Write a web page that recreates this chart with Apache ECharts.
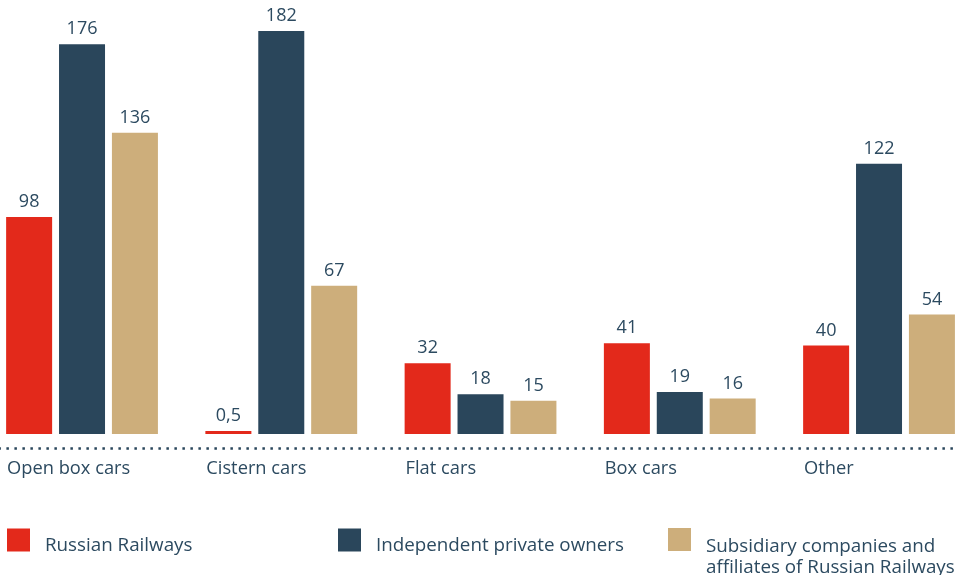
<!DOCTYPE html>
<html>
<head>
<meta charset="utf-8">
<script src="https://cdn.jsdelivr.net/npm/echarts@6/dist/echarts.min.js"></script>
<style>
  html, body { margin: 0; padding: 0; background: #ffffff; }
  #chart { width: 956px; height: 575px; }
</style>
</head>
<body>
<div id="chart"></div>
<script>
// Wagon fleet by type and owner
const categories = ['Open box cars', 'Cistern cars', 'Flat cars', 'Box cars', 'Other'];
const russianRailways = [98, 0.5, 32, 41, 40];
const privateOwners = [176, 182, 18, 19, 122];
const subsidiaries = [136, 67, 15, 16, 54];
const seriesNames = ['Russian Railways', 'Independent private owners', 'Subsidiary companies and affiliates of Russian Railways'];
const subsidiaryLines = ['Subsidiary companies and', 'affiliates of Russian Railways'];

const TEXT = '#2c4a60';
const FONT = '"Open Sans", "Noto Sans", sans-serif';
const COLORS = ['#e3291b', '#2a465b', '#cdae7b'];

const chart = echarts.init(document.getElementById('chart'), null, { renderer: 'canvas' });

const valueLabel = {
  show: true,
  position: 'top',
  distance: 6,
  color: TEXT,
  fontFamily: FONT,
  fontSize: 18,
  formatter: p => String(p.value).replace('.', ',')
};

// Legend entries: an empty spacer line above the text drops it a little below the swatch's centre
function legendAt(left, top, name, spacer, lines) {
  return {
    data: [name],
    left: left,
    top: top,
    padding: 0,
    orient: 'horizontal',
    icon: 'rect',
    itemWidth: 23,
    itemHeight: 23,
    selectedMode: false,
    formatter: n => '{s| }\n' + (lines || [n]).map(l => '{t|' + l + '}').join('\n'),
    textStyle: {
      color: TEXT,
      fontFamily: FONT,
      fontSize: 18.8,
      rich: {
        s: { lineHeight: spacer, fontSize: 4, padding: [0, 0, 0, 10] },
        t: { lineHeight: 21, fontSize: 18.8, color: TEXT, fontFamily: FONT, padding: [0, 0, 0, 10] }
      }
    }
  };
}

chart.setOption({
  animation: false,
  backgroundColor: '#ffffff',
  grid: { left: -17.6, top: 0, width: 996.25, height: 434, containLabel: false, outerBoundsMode: 'none' },
  legend: [
    legendAt(7, 527.5, seriesNames[0], 12),
    legendAt(338, 527.5, seriesNames[1], 12),
    legendAt(668, 516.5, seriesNames[2], 35, subsidiaryLines)
  ],
  xAxis: {
    type: 'category',
    data: categories,
    offset: 14,
    axisLine: { show: true, onZero: false, lineStyle: { color: '#2a465b', width: 2.5, type: [2.5, 5.5], cap: 'butt' } },
    axisTick: { show: false },
    splitLine: { show: false },
    axisLabel: {
      interval: 0,
      margin: 12,
      color: TEXT,
      fontFamily: FONT,
      fontSize: 18.3,
      formatter: v => '{a|' + v + '}',
      rich: { a: { width: 152, align: 'left', color: TEXT, fontFamily: FONT, fontSize: 18.3, padding: [0, 0, 0, 2] } }
    }
  },
  yAxis: { type: 'value', min: 0, max: 196, show: false, splitLine: { show: false } },
  series: [
    { name: seriesNames[0], type: 'bar', data: russianRailways, barWidth: 46, barGap: '15%', barMinHeight: 3, itemStyle: { color: COLORS[0] }, label: valueLabel },
    { name: seriesNames[1], type: 'bar', data: privateOwners, barWidth: 46, barGap: '15%', itemStyle: { color: COLORS[1] }, label: valueLabel },
    { name: seriesNames[2], type: 'bar', data: subsidiaries, barWidth: 46, barGap: '15%', itemStyle: { color: COLORS[2] }, label: valueLabel }
  ]
});
</script>
</body>
</html>
